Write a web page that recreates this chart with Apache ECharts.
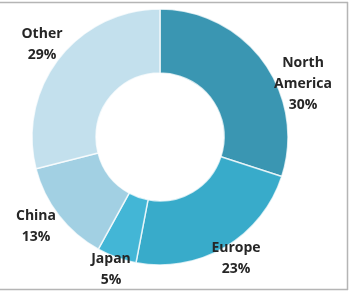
<!DOCTYPE html>
<html><head><meta charset="utf-8">
<script src="https://cdn.jsdelivr.net/npm/echarts@6/dist/echarts.min.js"></script>
<style>html,body{margin:0;padding:0;background:#fff}#c{width:350px;height:291px}</style>
</head><body><div id="c"></div>
<script>
const categories = ['North America', 'Europe', 'Japan', 'China', 'Other'];
const labelNames = ['North\nAmerica', 'Europe', 'Japan', 'China', 'Other'];
const values = [30, 23, 5, 13, 29];
const colors = ['#3a96b2', '#38abca', '#43b6d6', '#a2d0e3', '#c3e0ed'];
// label anchor points (pixels) for each slice, in category order
const labelAnchors = [[303, 84], [236, 259], [111, 270], [36, 227], [42, 45]];

const chart = echarts.init(document.getElementById('c'), null, {renderer: 'canvas'});
chart.setOption({
  animation: false,
  graphic: [
    {type: 'line', shape: {x1: 0, y1: 2.5, x2: 348, y2: 2.5}, style: {stroke: '#b5b5b5', lineWidth: 1.5}},
    {type: 'line', shape: {x1: 347.5, y1: 2, x2: 347.5, y2: 290}, style: {stroke: '#b5b5b5', lineWidth: 1.5}},
    {type: 'line', shape: {x1: 0, y1: 289.5, x2: 348, y2: 289.5}, style: {stroke: '#b5b5b5', lineWidth: 1.5}}
  ],
  series: [{
    type: 'pie',
    center: [160, 137],
    radius: [64, 128],
    startAngle: 90,
    clockwise: true,
    avoidLabelOverlap: false,
    itemStyle: {borderColor: 'rgba(255,255,255,0.75)', borderWidth: 1.5},
    labelLine: {show: false},
    label: {
      show: true,
      position: 'outside',
      formatter: p => labelNames[p.dataIndex] + '\n' + p.value + '%',
      fontFamily: 'Open Sans',
      fontWeight: 'bold',
      fontSize: 14,
      lineHeight: 21,
      color: '#262626',
      align: 'center'
    },
    labelLayout: p => ({
      x: labelAnchors[p.dataIndex][0],
      y: labelAnchors[p.dataIndex][1],
      align: 'center',
      verticalAlign: 'middle'
    }),
    data: categories.map((c, i) => ({name: c, value: values[i], itemStyle: {color: colors[i]}}))
  }]
});
</script></body></html>
